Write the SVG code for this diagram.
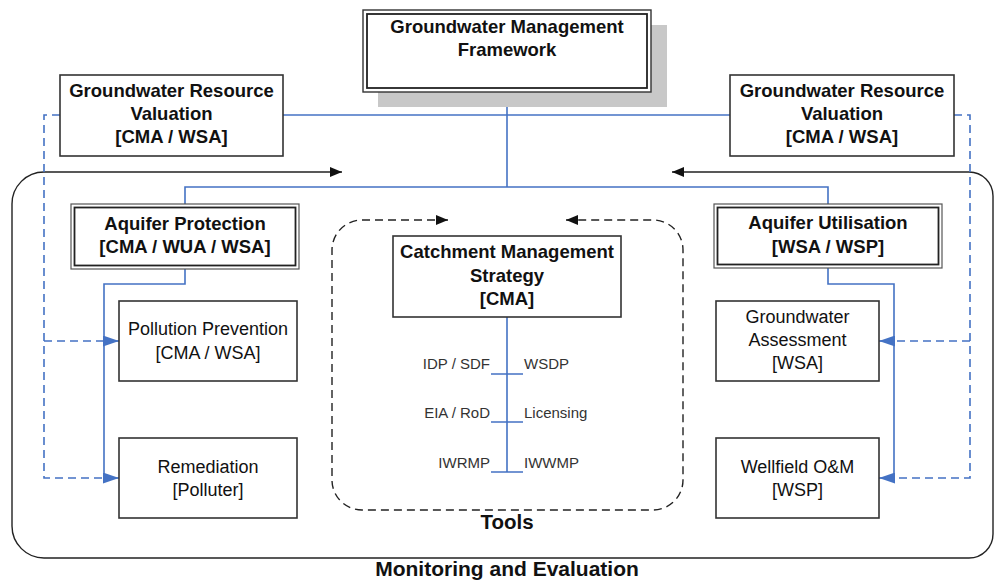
<svg xmlns="http://www.w3.org/2000/svg" width="994" height="580" viewBox="0 0 994 580">
<style>
text{font-family:"Liberation Sans",Arial,sans-serif;fill:#111;text-anchor:middle}
.b{font-weight:bold;font-size:18.5px}
.r{font-size:18px}
.s{font-size:15px;fill:#333}
.box{fill:#fff;stroke:#333;stroke-width:1.6}
.blue{fill:none;stroke:#4472C4;stroke-width:1.6}
.bdash{fill:none;stroke:#4472C4;stroke-width:1.6;stroke-dasharray:8 5}
</style>
<defs>
<marker id="ak" markerUnits="userSpaceOnUse" viewBox="0 0 12 10" refX="12" refY="5" markerWidth="12" markerHeight="10" orient="auto-start-reverse"><path d="M0,0 L12,5 L0,10 z" fill="#111"/></marker>
<marker id="ab" markerUnits="userSpaceOnUse" viewBox="0 0 16 11" refX="16" refY="5.5" markerWidth="16" markerHeight="11" orient="auto"><path d="M0,0 L16,5.5 L0,11 z" fill="#4472C4"/></marker>
</defs>
<rect width="994" height="580" fill="#fff"/>
<g id="connectors">
<path d="M342,172 H44 A32,32 0 0 0 12,204 V526 A32,32 0 0 0 44,558 H969 A24,24 0 0 0 993,534 V196 A24,24 0 0 0 969,172 H672" fill="none" stroke="#222" stroke-width="1.4" marker-start="url(#ak)" marker-end="url(#ak)"/>
<path d="M448,220 H362 A30,30 0 0 0 332,250 V480 A30,30 0 0 0 362,510 H653 A30,30 0 0 0 683,480 V250 A30,30 0 0 0 653,220 H566" fill="none" stroke="#222" stroke-width="1.4" stroke-dasharray="8 5" marker-start="url(#ak)" marker-end="url(#ak)"/>
<path class="blue" d="M283,115 H730"/>
<path class="blue" d="M507,92 V187"/>
<path class="blue" d="M185,204 V187 H828 V204"/>
<path class="blue" d="M185,269 V284 H104 V478"/>
<path class="blue" d="M828,268 V284 H894 V478"/>
<path class="blue" d="M104,341 H119" marker-end="url(#ab)"/>
<path class="blue" d="M104,478 H119" marker-end="url(#ab)"/>
<path class="blue" d="M894,341 H879" marker-end="url(#ab)"/>
<path class="blue" d="M894,478 H879" marker-end="url(#ab)"/>
<path class="bdash" d="M60,115 H44 V478 H104 M44,341 H104"/>
<path class="bdash" d="M954,115 H970 V478 H894 M970,341 H894"/>
<path class="blue" d="M507,317 V472 M491,374 H523 M491,422 H523 M491,472 H523"/>
</g>
<g id="framework">
<rect x="378" y="25" width="289" height="82" fill="#c8c8c8"/>
<rect x="363" y="10" width="288" height="82" fill="#fff" stroke="#333" stroke-width="1.4"/>
<rect x="367" y="14" width="280" height="74" fill="none" stroke="#222" stroke-width="1.8"/>
<text class="b" x="507" y="33">Groundwater Management</text>
<text class="b" x="507" y="56">Framework</text>
</g>
<g id="grv-left">
<rect class="box" x="60" y="75" width="223" height="81"/>
<text class="b" x="171.5" y="97">Groundwater Resource</text>
<text class="b" x="171.5" y="120">Valuation</text>
<text class="b" x="171.5" y="143">[CMA / WSA]</text>
</g>
<g id="grv-right">
<rect class="box" x="730" y="75" width="224" height="81"/>
<text class="b" x="842" y="97">Groundwater Resource</text>
<text class="b" x="842" y="120">Valuation</text>
<text class="b" x="842" y="143">[CMA / WSA]</text>
</g>
<g id="aquifer-protection">
<rect x="71" y="204" width="228" height="65" fill="#fff" stroke="#555" stroke-width="1.2"/>
<rect x="74.5" y="207.5" width="221" height="58" fill="none" stroke="#222" stroke-width="1.8"/>
<text class="b" x="185" y="230">Aquifer Protection</text>
<text class="b" x="185" y="253">[CMA / WUA / WSA]</text>
</g>
<g id="aquifer-utilisation">
<rect x="714" y="204" width="228" height="64" fill="#fff" stroke="#555" stroke-width="1.2"/>
<rect x="717.5" y="207.5" width="221" height="57" fill="none" stroke="#222" stroke-width="1.8"/>
<text class="b" x="828" y="229">Aquifer Utilisation</text>
<text class="b" x="828" y="253">[WSA / WSP]</text>
</g>
<g id="cms">
<rect class="box" x="393" y="236" width="228" height="81"/>
<text class="b" x="507" y="258">Catchment Management</text>
<text class="b" x="507" y="282">Strategy</text>
<text class="b" x="507" y="305">[CMA]</text>
</g>
<g id="tool-labels">
<text class="s" x="490" y="369" style="text-anchor:end">IDP / SDF</text>
<text class="s" x="524" y="369" style="text-anchor:start">WSDP</text>
<text class="s" x="490" y="418" style="text-anchor:end">EIA / RoD</text>
<text class="s" x="524" y="418" style="text-anchor:start">Licensing</text>
<text class="s" x="490" y="468" style="text-anchor:end">IWRMP</text>
<text class="s" x="524" y="468" style="text-anchor:start">IWWMP</text>
</g>
<g id="pollution-prevention">
<rect class="box" x="119" y="301" width="178" height="80"/>
<text class="r" x="208" y="335">Pollution Prevention</text>
<text class="r" x="208" y="359">[CMA / WSA]</text>
</g>
<g id="remediation">
<rect class="box" x="119" y="438" width="178" height="80"/>
<text class="r" x="208" y="473">Remediation</text>
<text class="r" x="208" y="496">[Polluter]</text>
</g>
<g id="groundwater-assessment">
<rect class="box" x="716" y="301" width="163" height="80"/>
<text class="r" x="797.5" y="323">Groundwater</text>
<text class="r" x="797.5" y="346">Assessment</text>
<text class="r" x="797.5" y="369">[WSA]</text>
</g>
<g id="wellfield">
<rect class="box" x="716" y="438" width="163" height="80"/>
<text class="r" x="797.5" y="473">Wellfield O&amp;M</text>
<text class="r" x="797.5" y="496">[WSP]</text>
</g>
<g id="labels">
<text x="507" y="529" style="font-weight:bold;font-size:20.5px">Tools</text>
<text x="507" y="576" style="font-weight:bold;font-size:21px">Monitoring and Evaluation</text>
</g>
</svg>
